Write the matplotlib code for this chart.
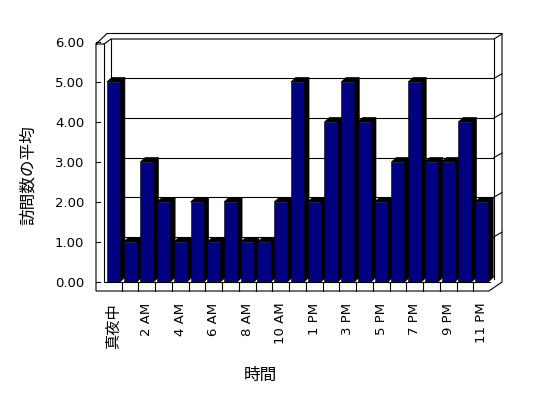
import matplotlib
matplotlib.use('Agg')
import matplotlib.pyplot as plt
import matplotlib.transforms as mtransforms
from matplotlib.patches import Polygon
import numpy as np

# data: average visits per hour (noon has no bar in the original)
hours = ['真夜中'] + ['%d AM' % h for h in range(1, 12)] + ['%d PM' % h for h in range(1, 12)]
visits = [5, 1, 3, 2, 1, 2, 1, 2, 1, 1, 2, 5, 2, 4, 5, 4, 2, 3, 5, 3, 3, 4, 2]
yticks = [0, 1, 2, 3, 4, 5, 6]

W, H = 548, 398
barColor = '#000080'
lw = 0.8

def figRect(x0, y0, x1, y1):
    # pixel box (top-left origin) -> figure fraction
    return [x0 / W, 1 - y1 / H, (x1 - x0) / W, (y1 - y0) / H]

fig = plt.figure(figsize=(W / 100, H / 100), dpi=100)

# overlay in pixel coords for the 3D frame
deco = fig.add_axes([0, 0, 1, 1], zorder=0)
deco.set_xlim(0, W)
deco.set_ylim(H, 0)
deco.set_autoscale_on(False)
deco.axis('off')

# back wall
axBack = fig.add_axes(figRect(111, 38.7, 494, 276.3), zorder=1)
axBack.set_xlim(0, 1)
axBack.set_ylim(0, 6)
axBack.axis('off')
for v in yticks[1:-1]:
    axBack.axhline(v, color='k', lw=lw)

# front plane with the bars
ax = fig.add_axes(figRect(105, 42, 490, 282), zorder=2)
ax.patch.set_alpha(0)
ax.set_xlim(-0.5, len(visits) - 0.5)
ax.set_ylim(0, 6)
ax.set_autoscale_on(False)
for s in ax.spines.values():
    s.set_visible(False)

# frame lines
frame = [
    ([96, 96, 489, 502, 502, 107, 96, 104], [44, 291, 291, 282, 33.5, 33.5, 44, 44]),
    ([104, 104, 490], [44, 282, 282]),
    ([104, 111, 494, 502], [44, 39, 39, 34]),
    ([111, 111], [39, 276]),
    ([494, 494], [39, 279]),
    ([111, 494], [276.3, 276.3]),
]
for xs, ys in frame:
    deco.plot(xs, ys, color='k', lw=lw, solid_joinstyle='miter')

# tick marks on the left wall
blendY = mtransforms.blended_transform_factory(deco.transData, ax.transData)
for v in yticks:
    deco.plot([96, 100], [v, v], color='k', lw=lw, transform=blendY)

# category dividers on the floor front
blendX = mtransforms.blended_transform_factory(ax.transData, deco.transData)
for b in np.arange(0.5, len(visits) - 1, 1):
    deco.plot([b, b], [282, 291], color='k', lw=lw, transform=blendX)

# gridline ends on the right wall
inv = deco.transData.inverted()
for v in yticks[1:-1]:
    yPix = inv.transform(axBack.transData.transform((0, v)))[1]
    deco.plot([494, 502], [yPix, yPix - 4.5], color='k', lw=lw)

# bars with black top and side
x = np.arange(len(visits))
barW = 0.78
p0 = ax.transData.transform((0, 0))
p1 = ax.transData.transform((1, 1))
ddx = 5 / (p1[0] - p0[0])
ddy = 4.5 / (p1[1] - p0[1])
for i, h in zip(x, visits):
    xl, xr = i - barW / 2, i + barW / 2
    ax.add_patch(Polygon([(xl, h), (xl + ddx, h + ddy), (xr + ddx, h + ddy),
                          (xr + ddx, ddy), (xr, 0), (xr, h)],
                         closed=True, facecolor='k', edgecolor='k', lw=0.5,
                         zorder=2, clip_on=False))
ax.bar(x, visits, width=barW, color=barColor, edgecolor='k', lw=0.4, zorder=3)

# tick labels
tickFont = ['DejaVu Sans', 'Noto Sans CJK JP']
ax.set_yticks(yticks)
ax.set_yticklabels(['%.2f' % v for v in yticks], family=tickFont, fontsize=9.5)
ax.tick_params(axis='y', length=0, pad=15)
ax.set_xticks(x[::2])
ax.set_xticklabels(hours[::2], rotation=90, va='top', ha='center',
                   family=tickFont, fontsize=9.5)
ax.tick_params(axis='x', length=0, pad=15)
ax.get_xticklabels()[0].set_fontsize(11)

fig.text(260 / W, 1 - 375 / H, '時間', ha='center', va='center',
         family=['Noto Sans CJK JP', 'DejaVu Sans'], fontsize=12)
fig.text(28 / W, 1 - 175 / H, '訪問数の平均', ha='center', va='center', rotation=90,
         family=['Noto Sans CJK JP', 'DejaVu Sans'], fontsize=12)

fig.savefig('out.png', dpi=100, facecolor='white')
